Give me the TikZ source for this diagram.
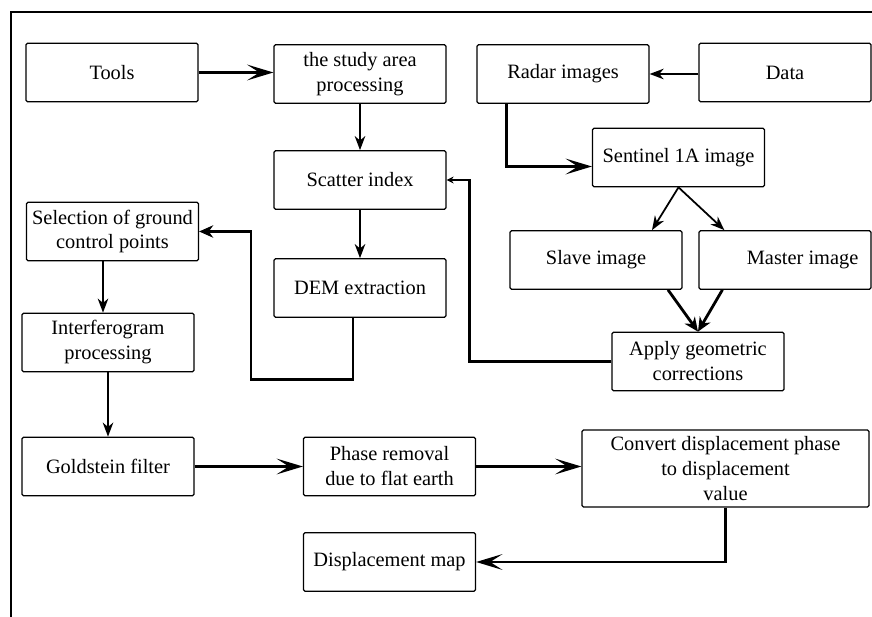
\documentclass[tikz,border=0pt]{standalone}
\usepackage{fontspec}
\setmainfont{Liberation Serif}
\usetikzlibrary{calc, arrows.meta}

\begin{document}
\begin{tikzpicture}[x=0.02cm, y=-0.02cm,
    box/.style={draw, line width=0.7pt, rounded corners=0.8pt, minimum width=3.44cm,
        minimum height=1.17cm, align=center, inner sep=1pt,
        font=\fontsize{11.6}{14.2}\selectfont},
    bigarrow/.style={-{Stealth[length=15pt, width=9pt, inset=7pt]}, line width=1.3pt},
    arrow/.style={-{Stealth[length=8pt, width=6pt, inset=2.5pt]}, line width=1pt},
    heavy/.style={-{Stealth[length=8pt, width=7pt, inset=2.5pt]}, line width=1.6pt}]
    \useasboundingbox (0,0) rectangle (872,617);
    % frame
    \draw[line width=0.9pt] (11,617) -- (11,12) -- (872,12);

    \node[box] (tools) at (112,72.5) {Tools};
    \node[box] (study) at (360,74) {the study area\\processing};
    \node[box] (radar) at (563,74) {Radar images};
    \node[box] (data) at (785,72.5) {Data};
    \node[box] (sentinel) at (678.5,157.5) {Sentinel 1A image};
    \node[box] (slave) at (596,260) {Slave image};
    \node[box] (master) at (785,260) {\hspace*{20pt}Master image};
    \node[box] (scatter) at (360,180) {Scatter index};
    \node[box] (dem) at (360,288) {DEM extraction};
    \node[box] (select) at (112.5,231.5) {Selection of ground\\control points};
    \node[box] (interf) at (108,342.5) {Interferogram\\processing};
    \node[box] (gold) at (108,466.5) {Goldstein filter};
    \node[box] (phase) at (389.5,466.5) {Phase removal\\due to flat earth};
    \node[box] (apply) at (698,361.5) {Apply geometric\\corrections};
    \node[box, minimum width=5.74cm, minimum height=1.54cm] (convert) at (725.5,468.5)
        {Convert displacement phase\\to displacement\\value};
    \node[box] (dmap) at (389.5,562) {Displacement map};

    % left column
    \draw[bigarrow, line width=1.6pt] (tools.east) -- (tools.east -| study.west);
    \draw[arrow] (study) -- (scatter);
    \draw[arrow] (scatter) -- (dem);
    \draw[heavy] ($(dem.south)+(-7,0)$) -- ++(0,62) -- ++(-102,0) |- (select.east);
    \draw[arrow] ($(select.south)+(-9.5,0)$) -- ($(interf.north)+(-5,0)$);
    \draw[arrow] (interf) -- (gold);
    \draw[bigarrow] (gold) -- (phase);
    \draw[bigarrow] (phase.east) -- (phase.east -| convert.west);
    \draw[bigarrow, line width=1.6pt] (convert.south) |- (dmap.east);

    % radar branch
    \draw[arrow] (data.west |- radar.east) -- (radar.east);
    \draw[bigarrow, line width=1.6pt] ($(radar.south west)+(30,0)$) |- ($(sentinel.west)+(0,9)$);
    \draw[arrow] (sentinel.south) -- ($(slave.north)+(56,0)$);
    \draw[arrow] (sentinel.south) -- ($(master.north west)+(26,0)$);
    \draw[heavy] ($(slave.south)+(72,0)$) -- (apply.north);
    \draw[heavy] ($(master.south west)+(24,0)$) -- (apply.north);
    \draw[line width=1.5pt, -{Stealth[length=4pt, width=4pt]}] (apply.west) -- ++(-142,0) |- (scatter.east);
\end{tikzpicture}
\end{document}
